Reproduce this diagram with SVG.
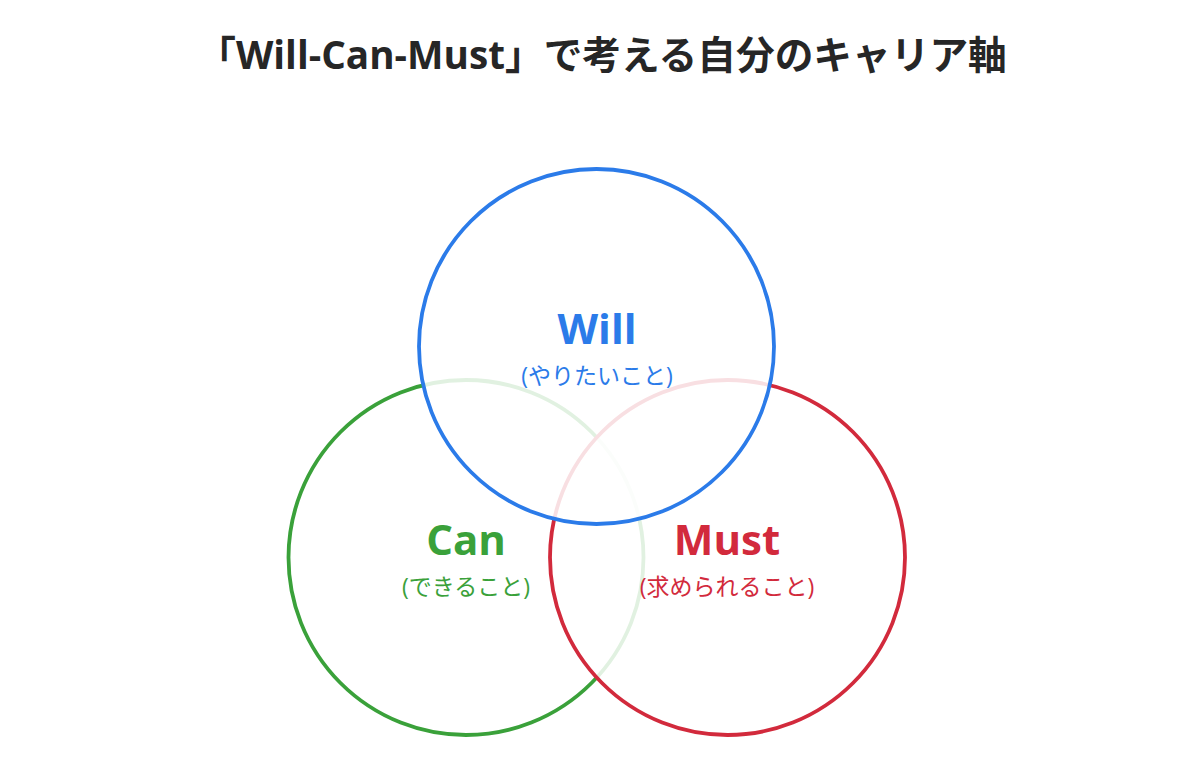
<svg xmlns="http://www.w3.org/2000/svg" width="1200" height="766" viewBox="0 0 1200 766">
<style>
.title{font-family:"Open Sans","Noto Sans CJK JP",sans-serif;font-weight:700;font-size:38.7px;fill:#262626;text-anchor:middle}
.main{font-family:"Open Sans","Noto Sans CJK JP",sans-serif;font-weight:700;font-size:42px;text-anchor:middle}
.sub{font-family:"Open Sans","Noto Sans CJK JP",sans-serif;font-size:23px;text-anchor:middle}
.c{fill:#ffffff;fill-opacity:0.85;stroke-width:3.8}
</style>
<rect width="1200" height="766" fill="#ffffff"/>
<text class="title" x="602" y="69">「Will-Can-Must」で考える自分のキャリア軸</text>
<g id="can">
<circle class="c" cx="466" cy="557.5" r="177.5" stroke="#3aa13a"/>
</g>
<g id="must">
<circle class="c" cx="727.5" cy="557.5" r="177.5" stroke="#d22a3c"/>
</g>
<g id="will">
<circle class="c" cx="596.5" cy="346.5" r="177.5" stroke="#2b7be9"/>
</g>
<g id="labels">
<text class="main" x="597" y="344" fill="#2b7be9">Will</text>
<text class="sub" x="597" y="384" fill="#2b7be9">(やりたいこと)</text>
<text class="main" x="466" y="555" fill="#3aa13a">Can</text>
<text class="sub" x="466" y="595" fill="#3aa13a">(できること)</text>
<text class="main" x="727" y="555" fill="#d22a3c">Must</text>
<text class="sub" x="727" y="595" fill="#d22a3c">(求められること)</text>
</g>
<g id="connectors"/>
</svg>
